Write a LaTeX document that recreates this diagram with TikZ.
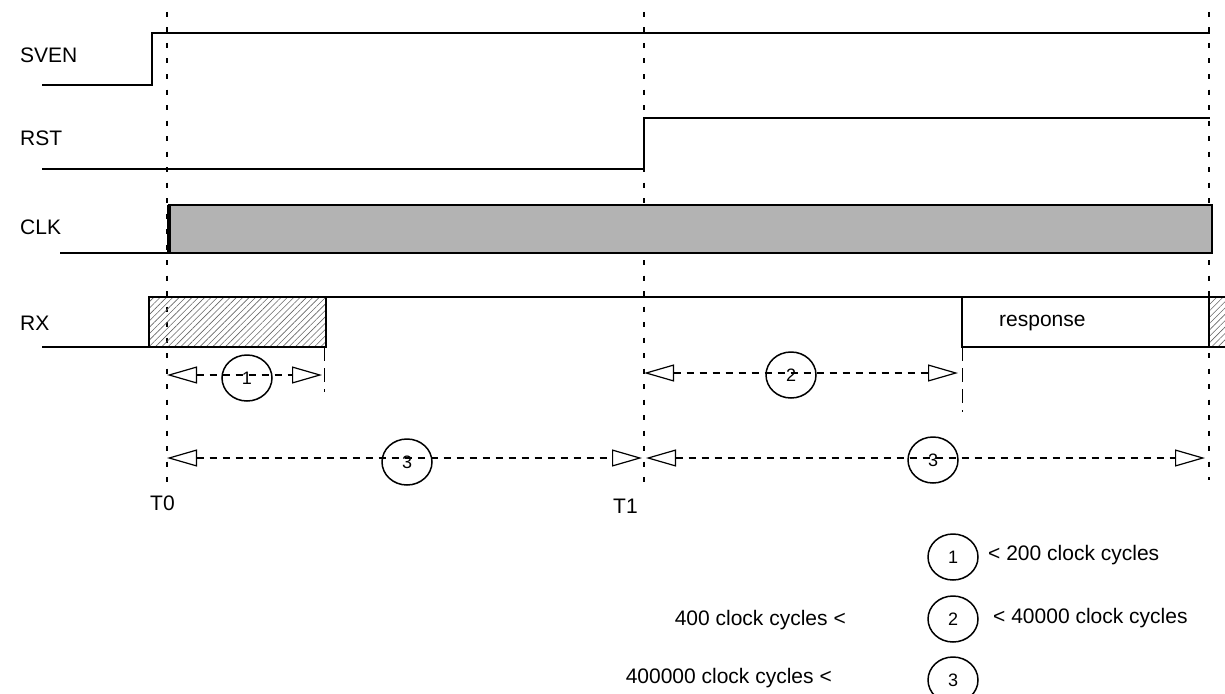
\documentclass[tikz,border=0pt]{standalone}
\usepackage{fontspec}
\setmainfont{Liberation Sans}
\usepackage{xcolor}
\usetikzlibrary{arrows.meta,patterns.meta,shapes.geometric}

\definecolor{clkgray}{RGB}{179,179,179}

\tikzset{
  wave/.style={line width=2pt},
  guide/.style={line width=2pt, dash pattern=on 5pt off 10.5pt},
  ext/.style={line width=1pt, dash pattern=on 14pt off 7pt},
  dim/.style={line width=1.6pt, dash pattern=on 7pt off 6pt,
    {Triangle[open,length=30pt,width=17pt,line width=1.2pt]}-{Triangle[open,length=30pt,width=17pt,line width=1.2pt]}},
  hatch/.style={pattern={Lines[angle=45,distance=4.5pt,line width=0.6pt]}, pattern color=black!60},
  num/.style={draw, solid, ellipse, line width=1.5pt, minimum width=50pt, minimum height=46pt,
    inner sep=0pt, font=\fontsize{18}{18}\selectfont},
  sig/.style={anchor=west, inner sep=0pt, font=\fontsize{21}{25}\selectfont},
  note/.style={inner sep=0pt, font=\fontsize{21}{25}\selectfont},
}

\begin{document}
\begin{tikzpicture}[x=1pt,y=-1pt]
\useasboundingbox (0,0) rectangle (1225,693);

% Time marks
\coordinate (t0) at (167,12);
\coordinate (t1) at (644,12);
\coordinate (te) at (1209,12);
\draw[guide] (t0) -- (167,490);
\draw[guide] (t1) -- (644,492);
\draw[guide] (te) -- (1209,480);
\node[sig] (t0lab) at (150,503) {T0};
\node[sig] (t1lab) at (613,506) {T1};

% Signal names
\node[sig] (sven) at (20,55) {SVEN};
\node[sig] (rst) at (20,138) {RST};
\node[sig] (clk) at (20,227) {CLK};
\node[sig] (rx) at (20,323) {RX};

% SVEN and RST
\draw[wave] (42,85) -- (152,85) -- (152,33) -- (1210,33);
\draw[wave] (42,169) -- (644,169) -- (644,118) -- (1210,118);

% CLK
\draw[wave] (60,253) -- (169,253);
\draw[wave, fill=clkgray] (169,205) rectangle (1212,253);
\draw[line width=4.5pt] (169,205) -- (169,253);

% RX
\draw[wave] (42,347) -- (149,347);
\draw[wave, hatch] (149,297) rectangle (326,347);
\fill[hatch] (1209,297) rectangle (1225,347);
\draw[wave] (326,297) -- (1225,297);
\draw[wave] (962,297) -- (962,347) -- (1225,347);
\draw[wave] (1209,297) -- (1209,347);
\node[note, anchor=west] (resp) at (999,323) {response};

% Extension lines
\draw[ext] (324,347) -- (324,392);
\draw[ext] (962,347) -- (962,412);

% Intervals
\draw[dim] (167,375) -- (322,375);
\node[num] (n1) at (247,378) {\raisebox{-4pt}{1}};
\draw[dim] (644,373) -- (958,373);
\node[num] (n2) at (791,375) {\raisebox{-4pt}{2}};
\draw[dim] (167,458) -- (642,458);
\draw[dim] (646,458) -- (1205,458);
\node[num] (n3a) at (407,462) {\raisebox{-4pt}{3}};
\node[num] (n3b) at (933,460) {\raisebox{-4pt}{3}};

% Legend
\node[num] (k1) at (953,557) {\raisebox{-4pt}{1}};
\node[num] (k2) at (953,619) {\raisebox{-4pt}{2}};
\node[num] (k3) at (953,680) {\raisebox{-4pt}{3}};
\node[note, anchor=west] (k1r) at (988,555) {< 200 clock cycles};
\node[note, anchor=west] (k2r) at (993,618) {< 40000 clock cycles};
\node[note, anchor=east] (k2l) at (846,620) {400 clock cycles <};
\node[note, anchor=east] (k3l) at (832,678) {400000 clock cycles <};
\end{tikzpicture}
\end{document}
